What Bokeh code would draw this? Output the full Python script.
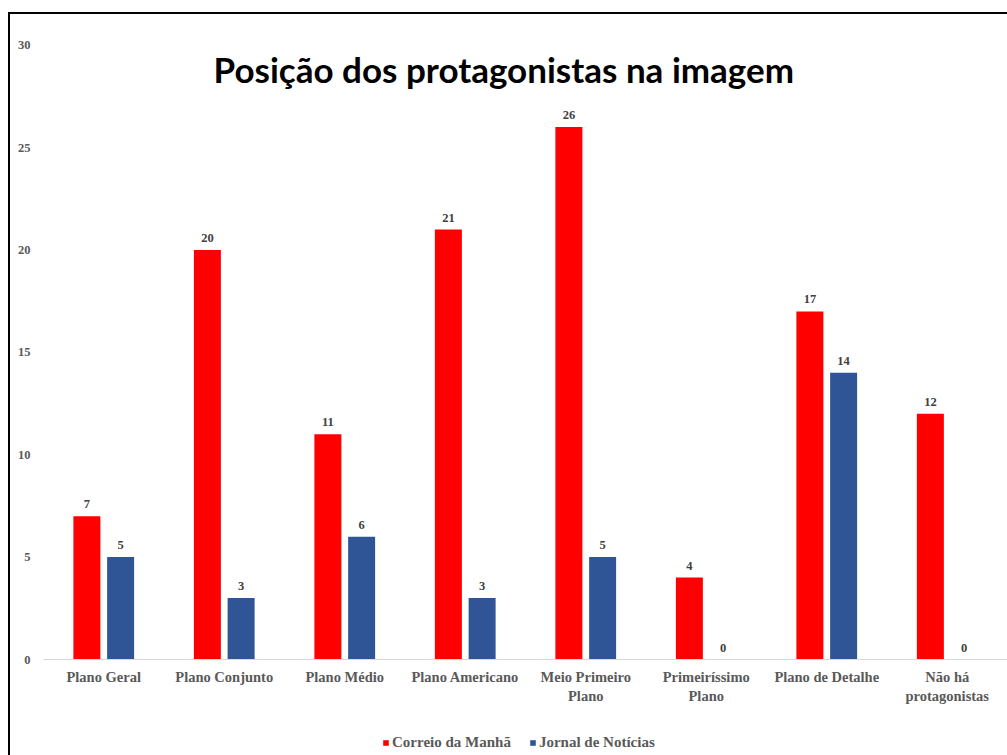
from bokeh.plotting import figure
from bokeh.layouts import column
from bokeh.models import (ColumnDataSource, FactorRange, FixedTicker, Label,
                          Legend, LegendItem, Range1d)
from bokeh.transform import dodge
from bokeh.embed import file_html
from bokeh.resources import INLINE
from bokeh.core.properties import value

categories = ["Plano Geral", "Plano Conjunto", "Plano Médio", "Plano Americano",
              "Meio Primeiro\nPlano", "Primeiríssimo\nPlano", "Plano de Detalhe",
              "Não há\nprotagonistas"]
correio = [7, 20, 11, 21, 26, 4, 17, 12]
jornal = [5, 3, 6, 3, 5, 0, 14, 0]
series_names = ["Correio da Manhã", "Jornal de Notícias"]
y_ticks = [0, 5, 10, 15, 20, 25, 30]
title_text = "Posição dos protagonistas na imagem"

RED = "#FF0000"
BLUE = "#2F5597"
GRAY = "#595959"
SERIF = "Liberation Serif"

src = ColumnDataSource(dict(
    cat=categories,
    correio=correio,
    jornal=jornal,
    correio_lbl=[str(v) for v in correio],
    jornal_lbl=[str(v) for v in jornal],
))

p = figure(x_range=FactorRange(*categories), y_range=Range1d(0, 31.5),
           width=997, height=692, output_backend="svg", toolbar_location=None,
           min_border_left=33, min_border_right=0, min_border_top=0,
           min_border_bottom=47)

p.outline_line_color = None
p.xgrid.visible = False
p.ygrid.visible = False

r1 = p.vbar(x=dodge("cat", -0.14, range=p.x_range), top="correio", width=0.224,
            source=src, fill_color=RED, line_color=None)
r2 = p.vbar(x=dodge("cat", 0.14, range=p.x_range), top="jornal", width=0.224,
            source=src, fill_color=BLUE, line_color=None)

for xoff, field in ((-0.14, "correio_lbl"), (0.14, "jornal_lbl")):
    yfield = field.replace("_lbl", "")
    p.text(x=dodge("cat", xoff, range=p.x_range), y=yfield, text=field, source=src,
           text_align="center", text_baseline="bottom", y_offset=-8,
           text_font=value(SERIF), text_font_style="bold", text_font_size="12.5px",
           text_color="#404040")

p.yaxis.ticker = FixedTicker(ticks=y_ticks)
p.yaxis.axis_line_color = None
p.yaxis.major_tick_line_color = None
p.yaxis.minor_tick_line_color = None
p.yaxis.major_label_text_font = SERIF
p.yaxis.major_label_text_font_style = "bold"
p.yaxis.major_label_text_font_size = "12.5px"
p.yaxis.major_label_text_color = GRAY
p.yaxis.major_label_standoff = 7

p.xaxis.axis_line_color = "#D9D9D9"
p.xaxis.axis_line_width = 1
p.xaxis.major_tick_line_color = None
p.xaxis.minor_tick_line_color = None
p.xaxis.major_label_text_font = SERIF
p.xaxis.major_label_text_font_style = "bold"
p.xaxis.major_label_text_font_size = "14.5px"
p.xaxis.major_label_text_color = GRAY
p.xaxis.major_label_standoff = 3

title = Label(x=3.82, y=28.86, text=title_text, text_align="center",
              text_baseline="middle", text_font="Lato", text_font_style="bold",
              text_font_size="35px", text_color="black")
p.add_layout(title)

# legend strip below the chart (zero-height proxy bars carry the legend swatches)
lf = figure(width=997, height=49, output_backend="svg", toolbar_location=None,
            x_range=Range1d(0, 1), y_range=Range1d(0, 1),
            x_axis_type=None, y_axis_type=None,
            min_border_left=0, min_border_right=0, min_border_top=0,
            min_border_bottom=0)
lf.outline_line_color = None
lf.xgrid.visible = False
lf.ygrid.visible = False
lr1 = lf.vbar(x=[0.5], top=[0], bottom=[0], width=0.1, fill_color=RED, line_color=None)
lr2 = lf.vbar(x=[0.5], top=[0], bottom=[0], width=0.1, fill_color=BLUE, line_color=None)

legend = Legend(items=[LegendItem(label=series_names[0], renderers=[lr1]),
                       LegendItem(label=series_names[1], renderers=[lr2])],
                orientation="horizontal", location=(339, 4),
                glyph_width=7, glyph_height=7, label_height=14, label_standoff=3,
                spacing=18, padding=0, margin=0, border_line_color=None,
                background_fill_alpha=0,
                label_text_font=SERIF, label_text_font_style="bold",
                label_text_font_size="15px", label_text_color=GRAY)
lf.add_layout(legend)

layout = column(p, lf, margin=(12, 0, 0, 8),
                styles={"border-top": "2px solid black", "border-left": "2px solid black"})

open("out.html", "w").write(file_html(layout, INLINE))
